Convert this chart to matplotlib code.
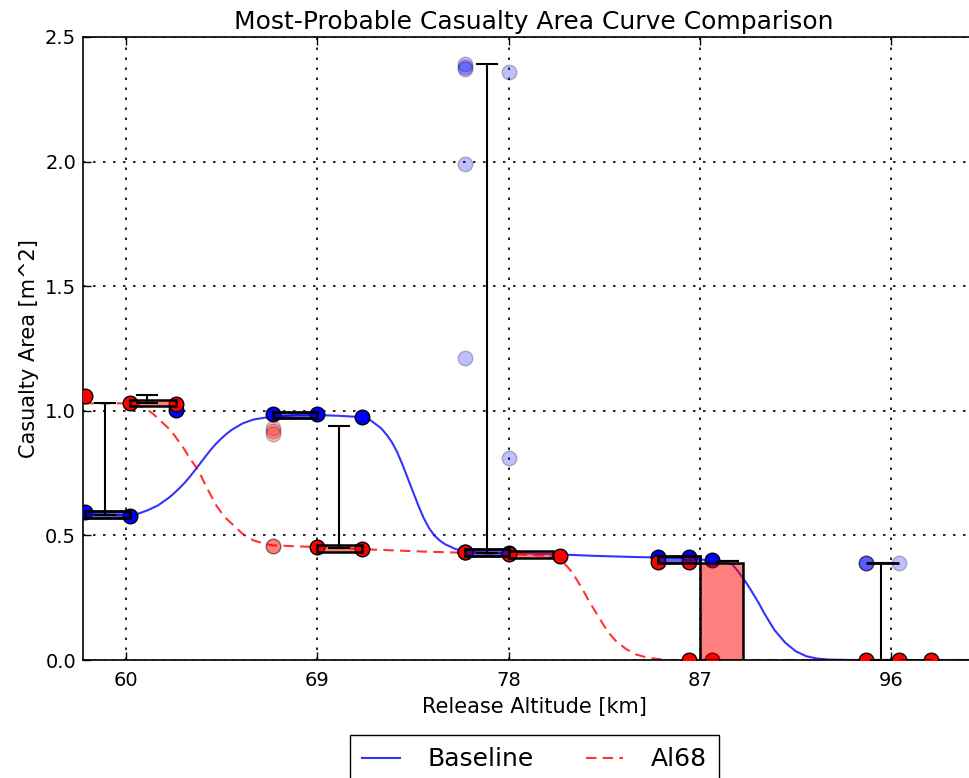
import numpy as np
import matplotlib
matplotlib.use('Agg')
import matplotlib.pyplot as plt

# smooth most-probable curves
base_x = [58.0, 59.0, 60.2, 60.6, 61.0, 61.5, 62.0, 62.25, 62.5, 62.75, 63.0, 63.25, 63.5, 63.75, 64.0,
          64.25, 64.5, 64.75, 65.0, 65.5, 66.0, 66.5, 66.9,
          68.0, 69.0, 70.0, 71.0, 71.5, 72.0, 72.25, 72.5, 72.75, 73.0, 73.25, 73.5, 73.75, 74.0, 74.25,
          74.5, 74.75, 75.0, 75.5, 76.0, 77.0, 78.0,
          80.0, 82.0, 84.0, 86.0, 87.5, 88.0, 88.5, 88.75, 89.0, 89.25, 89.5, 89.75, 90.0, 90.25, 90.5,
          90.75, 91.0, 91.5, 92.0, 92.5, 93.0, 94.0, 100.5]
base_y = [0.585, 0.583, 0.58, 0.588, 0.60, 0.62, 0.65, 0.668, 0.688, 0.71, 0.735, 0.762, 0.79, 0.818, 0.845,
          0.869, 0.89, 0.909, 0.925, 0.95, 0.965, 0.972, 0.976,
          0.982, 0.983, 0.98, 0.975, 0.962, 0.93, 0.905, 0.875, 0.835, 0.785, 0.73, 0.675, 0.62, 0.57, 0.53,
          0.50, 0.48, 0.465, 0.445, 0.435, 0.43, 0.43,
          0.425, 0.418, 0.413, 0.41, 0.40, 0.395, 0.385, 0.36, 0.33, 0.30, 0.265, 0.23, 0.19, 0.155, 0.12,
          0.095, 0.07, 0.035, 0.015, 0.006, 0.002, 0.0, 0.0]

al_x = [58.0, 60.2, 60.5, 60.9, 61.25, 61.5, 61.75, 62.0, 62.25, 62.5, 62.75, 63.0, 63.25, 63.5, 63.75,
        64.0, 64.25, 64.5, 64.75, 65.0, 65.5, 66.0, 66.5, 66.9,
        69.0, 71.1, 74.0, 76.0, 78.0, 79.5, 80.0, 80.25, 80.5, 80.75, 81.0, 81.25, 81.5, 81.75, 82.0,
        82.25, 82.5, 82.75, 83.0, 83.5, 84.0, 84.5, 85.0, 85.5, 100.5]
al_y = [1.03, 1.03, 1.025, 1.01, 0.99, 0.97, 0.95, 0.93, 0.905, 0.875, 0.845, 0.81, 0.78, 0.745, 0.70,
        0.66, 0.62, 0.59, 0.565, 0.545, 0.505, 0.48, 0.467, 0.46,
        0.453, 0.445, 0.435, 0.43, 0.425, 0.42, 0.415, 0.41, 0.395, 0.375, 0.35, 0.315, 0.28, 0.24, 0.205,
        0.17, 0.135, 0.105, 0.08, 0.045, 0.022, 0.01, 0.004, 0.0, 0.0]

# individual cases: (x, y, alpha)
blue_pts_x = [58.07, 60.19, 62.35, 66.93, 69.0, 71.1, 75.95, 78.0, 75.95, 75.95, 75.95, 75.95, 75.95,
              78.0, 78.0, 85.04, 86.5, 87.58, 94.8, 94.8, 96.35]
blue_pts_y = [0.594, 0.578, 1.003, 0.987, 0.987, 0.975, 0.433, 0.43, 2.39, 2.38, 2.37, 1.99, 1.21,
              2.36, 0.81, 0.413, 0.413, 0.40, 0.39, 0.39, 0.39]
blue_pts_a = [1, 1, 1, 1, 1, 1, 1, 1, 0.25, 0.25, 0.25, 0.25, 0.25,
              0.25, 0.25, 1, 1, 1, 0.4, 0.4, 0.25]

red_pts_x = [58.07, 60.19, 62.35, 66.93, 66.93, 66.93, 66.93, 69.0, 71.1, 75.95, 78.0, 80.4,
             85.04, 86.5, 86.5, 87.58, 94.8, 96.35, 97.85]
red_pts_y = [1.06, 1.032, 1.028, 0.93, 0.92, 0.905, 0.457, 0.453, 0.445, 0.433, 0.425, 0.417,
             0.393, 0.393, 0.0, 0.0, 0.0, 0.0, 0.0]
red_pts_a = [1, 1, 1, 0.25, 0.25, 0.25, 0.5, 1, 1, 1, 1, 1,
             1, 1, 1, 1, 1, 1, 1]

# range bars
base_bar_l = [58.07, 66.93, 75.95, 85.0, 94.8]
base_bar_r = [60.19, 69.0, 78.0, 87.0, 96.35]
base_bar_lo = [0.570, 0.970, 0.418, 0.388, 0.39]
base_bar_hi = [0.598, 0.997, 0.446, 0.418, 0.39]

al_bar_l = [60.19, 69.0, 78.0, 87.0, 96.35]
al_bar_r = [62.35, 71.1, 80.1, 89.0, 97.85]
al_bar_lo = [1.018, 0.435, 0.410, 0.0, 0.0]
al_bar_hi = [1.044, 0.462, 0.437, 0.39, 0.0]

# spread between the two cases
err_x = [59.0, 61.0, 70.0, 77.0, 88.3, 95.5]
err_lo = [0.58, 1.03, 0.45, 0.43, 0.397, 0.0]
err_hi = [1.03, 1.064, 0.94, 2.392, 0.397, 0.39]

xticks = [60, 69, 78, 87, 96]
yticks = [0.0, 0.5, 1.0, 1.5, 2.0, 2.5]

plt.rcParams['xtick.direction'] = 'in'
plt.rcParams['ytick.direction'] = 'in'
plt.rcParams['xtick.top'] = True
plt.rcParams['ytick.right'] = True
plt.rcParams['font.size'] = 14

fig = plt.figure(figsize=(9.69, 7.78), dpi=100)
ax = fig.add_axes([83/969, 1-660/778, (985-83)/969, (660-37)/778])

ax.plot(base_x, base_y, '-', color='blue', alpha=0.8, lw=1.5, label='Baseline', zorder=2)
ax.plot(al_x, al_y, '--', color='red', alpha=0.8, lw=1.5, dashes=(5, 3), label='Al68', zorder=2)

for x, y, a in zip(blue_pts_x, blue_pts_y, blue_pts_a):
    ax.plot(x, y, 'o', color='blue', mec='black', mew=1, ms=10.5, alpha=a, zorder=3)
for x, y, a in zip(red_pts_x, red_pts_y, red_pts_a):
    ax.plot(x, y, 'o', color='red', mec='black', mew=1, ms=10.5, alpha=a, zorder=3)

ax.bar(base_bar_l, np.array(base_bar_hi) - np.array(base_bar_lo), bottom=base_bar_lo,
       width=np.array(base_bar_r) - np.array(base_bar_l), align='edge',
       facecolor=(0, 0, 0.8, 0.6), edgecolor=(0, 0, 0, 1), lw=2, zorder=4)
ax.bar(al_bar_l, np.array(al_bar_hi) - np.array(al_bar_lo), bottom=al_bar_lo,
       width=np.array(al_bar_r) - np.array(al_bar_l), align='edge',
       facecolor=(1, 0, 0, 0.5), edgecolor=(0, 0, 0, 1), lw=1.8, zorder=4)

err_lo = np.array(err_lo)
err_hi = np.array(err_hi)
ax.errorbar(err_x, err_lo, yerr=[np.zeros_like(err_lo), err_hi - err_lo], fmt='none',
            ecolor='black', elinewidth=1.5, capsize=8, capthick=1.5, zorder=5)

ax.set_xlim(57.98, 100.4)
ax.set_ylim(0, 2.5)
ax.set_xticks(xticks)
ax.set_yticks(yticks)
ax.grid(True, linestyle=(0, (1.5, 4.5)), color='black', lw=1.2)
ax.tick_params(length=6, width=1)
ax.tick_params(axis='x', pad=8)
ax.tick_params(axis='y', pad=5)
for s in ax.spines.values():
    s.set_linewidth(1.2)

ax.set_xlabel('Release Altitude [km]', fontsize=15, labelpad=5)
ax.set_ylabel('Casualty Area [m^2]', fontsize=15)
ax.set_title('Most-Probable Casualty Area Curve Comparison', fontsize=18, pad=6)

fig.legend(loc='upper center', bbox_to_anchor=(534.5/969, 1-735/778), ncol=2, fontsize=18,
           frameon=True, fancybox=False, edgecolor='black', columnspacing=2.1,
           handlelength=1.5, handletextpad=1.1, borderpad=0.5, borderaxespad=0, framealpha=1)

fig.savefig('out.png', dpi=100)
